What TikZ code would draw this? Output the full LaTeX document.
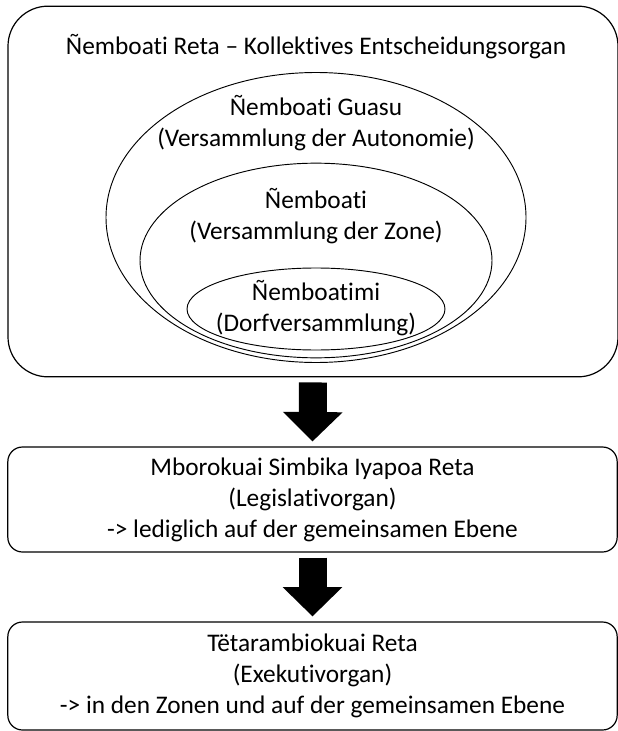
\documentclass[tikz,border=0pt]{standalone}
\usepackage{fontspec}
\setmainfont{Carlito}[Ligatures={TeX,NoCommon}]
\usetikzlibrary{shapes.geometric,arrows.meta}

\tikzset{
	schrift/.style={font=\fontsize{19}{23.3}\selectfont},
	organ/.style={draw, line width=0.9pt, rounded corners=11pt, minimum width=457pt, align=center, schrift},
	kreis/.style={draw, ellipse, line width=0.7pt, inner sep=0pt},
	titel/.style={align=center, schrift},
	pfeil/.style={line width=21pt, -{Triangle[width=43.5pt,length=22pt]}, shorten <=3.75pt, shorten >=3.75pt},
}

\begin{document}
\begin{tikzpicture}[x=0.75pt, y=-0.75pt]
	\useasboundingbox (0,0) rectangle (617,731);

	%% Kollektives Entscheidungsorgan
	\node[draw, line width=0.9pt, rounded corners=30pt, minimum width=457.5pt, minimum height=278pt] (reta) at (313,191.5) {};
	\node[titel] (retatitel) at (316,47) {Ñemboati Reta – Kollektives Entscheidungsorgan};

	%% Versammlungen
	\node[kreis, minimum width=315pt, minimum height=217.5pt] (guasu) at (316,217.5) {};
	\node[kreis, minimum width=264pt, minimum height=146pt] (zone) at (316,260.5) {};
	\node[kreis, minimum width=193.5pt, minimum height=61.5pt] (dorf) at (316,309) {};
	\node[titel] (guasutext) at (316,123) {Ñemboati Guasu\\(Versammlung der Autonomie)};
	\node[titel] (zonetext) at (316,216) {Ñemboati\\(Versammlung der Zone)};
	\node[titel] (dorftext) at (316,308) {Ñemboatimi\\(Dorfversammlung)};
	%%%%%%%%%%%%%%%%

	%% Legislative und Exekutive
	\node[organ, minimum height=78.75pt] (legis) at (312.5,499.5) {Mborokuai Simbika Iyapoa Reta\\(Legislativorgan)\\-> lediglich auf der gemeinsamen Ebene};
	\node[organ, minimum height=81pt] (exek) at (312.5,676) {Tëtarambiokuai Reta\\(Exekutivorgan)\\-> in den Zonen und auf der gemeinsamen Ebene};

	\draw[pfeil] (reta.south) -- (legis.north);
	\draw[pfeil] (legis.south) -- (exek.north);
\end{tikzpicture}
\end{document}
